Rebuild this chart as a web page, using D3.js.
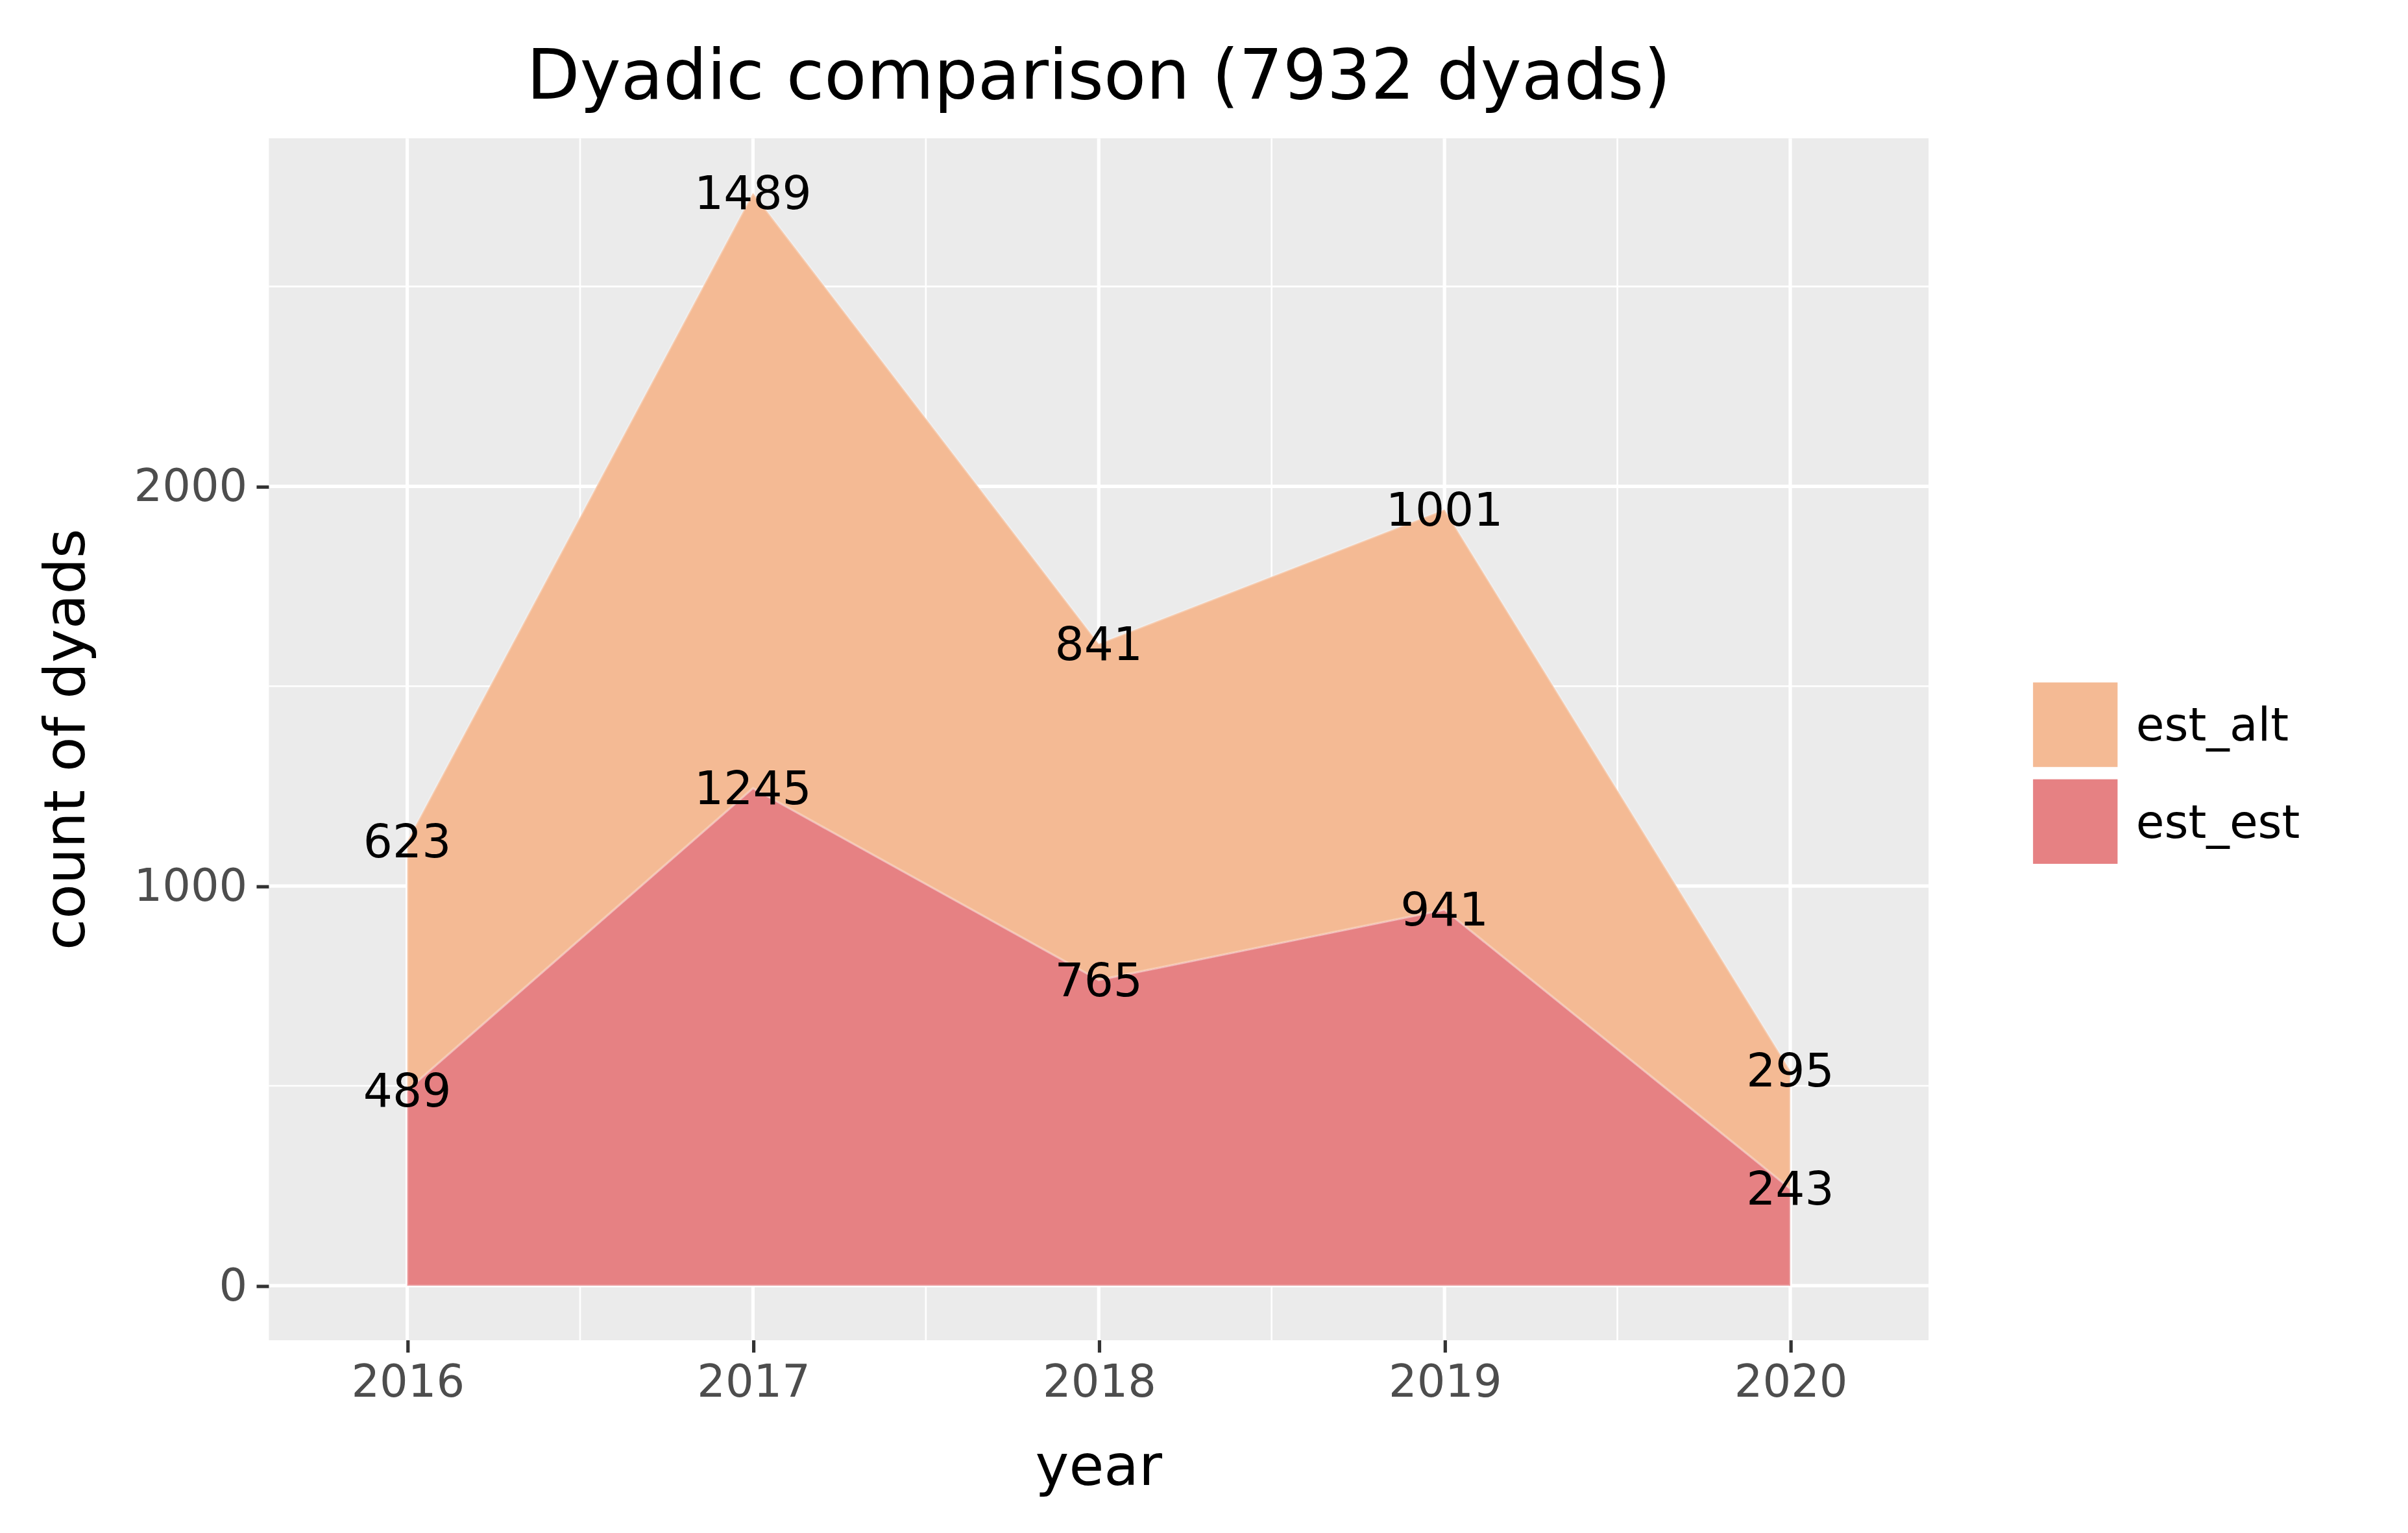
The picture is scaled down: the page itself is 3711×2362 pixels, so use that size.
<!DOCTYPE html>
<html><head><meta charset="utf-8">
<script src="https://cdn.jsdelivr.net/npm/d3@7"></script>
<style>body{margin:0;background:#fff}</style>
</head><body>
<svg id="chart"></svg>
<script>
const years = [2016, 2017, 2018, 2019, 2020];
const estEst = [489, 1245, 765, 941, 243];
const estAlt = [623, 1489, 841, 1001, 295];
const seriesNames = ["est_alt", "est_est"];
const seriesColors = { est_alt: "#F4BA94", est_est: "#E68183" };
const yTicks = [0, 1000, 2000];

const W = 3711, H = 2362, s = W / 1567;
const svg = d3.select("#chart").attr("width", W).attr("height", H);
const g = svg.append("g").attr("transform", `scale(${s})`);
const font = "DejaVu Sans, sans-serif";

const panel = { left: 175, right: 1255, top: 90, bottom: 872 };
const rows = years.map((y, i) => ({ year: y, est_est: estEst[i], est_alt: estAlt[i] }));
const stack = d3.stack().keys(["est_est", "est_alt"])(rows);
const maxY = d3.max(stack[1], d => d[1]);

const x = d3.scaleLinear().domain([2015.6, 2020.4]).range([panel.left, panel.right]);
const y = d3.scaleLinear().domain([-0.05 * maxY, maxY * 1.05]).range([panel.bottom, panel.top]);

g.append("rect").attr("x", panel.left).attr("y", panel.top)
  .attr("width", panel.right - panel.left).attr("height", panel.bottom - panel.top).attr("fill", "#EBEBEB");

// grid
const minorY = [500, 1500, 2500];
const minorX = [2016.5, 2017.5, 2018.5, 2019.5];
minorY.forEach(v => g.append("line").attr("x1", panel.left).attr("x2", panel.right).attr("y1", y(v)).attr("y2", y(v)).attr("stroke", "#fff").attr("stroke-width", 1.1));
minorX.forEach(v => g.append("line").attr("y1", panel.top).attr("y2", panel.bottom).attr("x1", x(v)).attr("x2", x(v)).attr("stroke", "#fff").attr("stroke-width", 1.1));
yTicks.forEach(v => g.append("line").attr("x1", panel.left).attr("x2", panel.right).attr("y1", y(v)).attr("y2", y(v)).attr("stroke", "#fff").attr("stroke-width", 2.2));
years.forEach(v => g.append("line").attr("y1", panel.top).attr("y2", panel.bottom).attr("x1", x(v)).attr("x2", x(v)).attr("stroke", "#fff").attr("stroke-width", 2.2));

// areas
const area = d3.area().x(d => x(d.data.year)).y0(d => y(d[0])).y1(d => y(d[1]));
stack.forEach(layer => {
  g.append("path").attr("d", area(layer)).attr("fill", seriesColors[layer.key])
    .attr("stroke", "rgba(255,255,255,0.25)").attr("stroke-width", 1.5);
});

// labels
stack.forEach(layer => {
  layer.forEach(d => {
    g.append("text").attr("x", x(d.data.year)).attr("y", y(d[1])).attr("dy", "0.35em")
      .attr("text-anchor", "middle").attr("font-family", font).attr("font-size", 30)
      .attr("fill", "#000").text(d.data[layer.key]);
  });
});

// axes
const yAxis = g.append("g").attr("transform", `translate(${panel.left},0)`)
  .call(d3.axisLeft(y).tickValues(yTicks).tickSize(8).tickPadding(6).tickFormat(d3.format("d")));
const xAxis = g.append("g").attr("transform", `translate(0,${panel.bottom})`)
  .call(d3.axisBottom(x).tickValues(years).tickSize(8).tickPadding(8).tickFormat(d3.format("d")));
[xAxis, yAxis].forEach(a => {
  a.select(".domain").remove();
  a.selectAll(".tick line").attr("stroke", "#333").attr("stroke-width", 2.2);
  a.selectAll(".tick text").attr("fill", "#4D4D4D").attr("font-size", 29).attr("font-family", font);
});

// titles
g.append("text").attr("x", (panel.left + panel.right) / 2).attr("y", 64).attr("text-anchor", "middle")
  .attr("font-family", font).attr("font-size", 45).text("Dyadic comparison (7932 dyads)");
g.append("text").attr("x", (panel.left + panel.right) / 2).attr("y", 966).attr("text-anchor", "middle")
  .attr("font-family", font).attr("font-size", 37).text("year");
g.append("text").attr("transform", `translate(42,${(panel.top + panel.bottom) / 2}) rotate(-90)`)
  .attr("text-anchor", "middle").attr("dy", "0.35em").attr("font-family", font).attr("font-size", 37).text("count of dyads");

// legend
seriesNames.forEach((name, i) => {
  const ly = 444 + i * 63;
  g.append("rect").attr("x", 1323).attr("y", ly).attr("width", 55).attr("height", 55).attr("fill", seriesColors[name]);
  g.append("text").attr("x", 1390).attr("y", ly + 27.5).attr("dy", "0.35em")
    .attr("font-family", font).attr("font-size", 30).text(name);
});
</script>
</body></html>
